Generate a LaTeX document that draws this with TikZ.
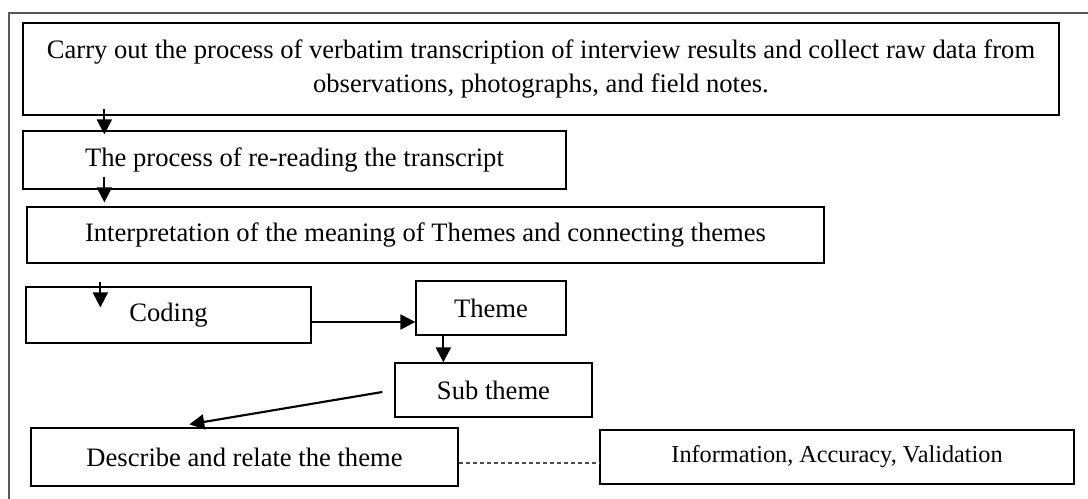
\documentclass[tikz,border=0pt]{standalone}
\usepackage{fontspec}
\setmainfont{Liberation Serif}
\usetikzlibrary{arrows.meta,calc}
\begin{document}
\begin{tikzpicture}[x=0.47pt,y=-0.47pt,
  box/.style={draw=black,line width=0.6pt,inner sep=0pt,align=center,
    font=\fontsize{12.5}{16}\selectfont},
  arr/.style={line width=1pt,-{Triangle[width=7pt,length=7pt]}},
  frameline/.style={draw=black!65,line width=0.6pt},
  link/.style={draw=black!70,line width=0.5pt,dash pattern=on 2pt off 1.3pt}]
\useasboundingbox (0,0) rectangle (1088,499);
% partial outer frame
\draw[frameline] (1088,13) -- (9,13) -- (9,499);
% process boxes
\node[box,minimum width=1036*0.47pt,minimum height=92*0.47pt] (collect) at (541,69)
  {Carry out the process of verbatim transcription of interview results and collect raw data from\\observations, photographs, and field notes.};
\node[box,minimum width=543*0.47pt,minimum height=58*0.47pt] (reread) at (294.5,160)
  {The process of re-reading the transcript};
\node[box,minimum width=797*0.47pt,minimum height=56*0.47pt] (interp) at (425.5,235)
  {Interpretation of the meaning of Themes and connecting themes};
\node[box,minimum width=285*0.47pt,minimum height=56*0.47pt] (coding) at (168.5,315)
  {Coding};
\node[box,minimum width=150*0.47pt,minimum height=54*0.47pt] (theme) at (491,308)
  {Theme};
\node[box,minimum width=197*0.47pt,minimum height=54*0.47pt] (sub) at (493.5,390)
  {Sub theme};
\node[box,minimum width=427*0.47pt,minimum height=58*0.47pt] (desc) at (244.5,457)
  {Describe and relate the theme};
\node[box,minimum width=474*0.47pt,minimum height=54*0.47pt,font=\fontsize{11.4}{13}\selectfont] (info) at (837,457)
  {Information, Accuracy, Validation};
% connectors
\draw[arr] ($(collect.south west)+(82,-7)$) -- ($(reread.north west)+(82,4)$);
\draw[arr] ($(reread.south west)+(82,-13)$) -- ($(interp.north west)+(78,-4)$);
\draw[arr] ($(interp.south west)+(74,18)$) -- ($(coding.north west)+(75,21)$);
\draw[arr] ($(coding.east)+(0,7)$) -- ($(theme.west)+(0,14)$);
\draw[arr] ($(theme.south west)+(28,0)$) -- ($(sub.north west)+(49,0)$);
\draw[arr] ($(sub.west)+(-12,2)$) -- ($(desc.north west)+(159,-3)$);
\draw[link] ($(desc.east)+(0,6)$) -- ($(info.west)+(0,6)$);
\end{tikzpicture}
\end{document}
